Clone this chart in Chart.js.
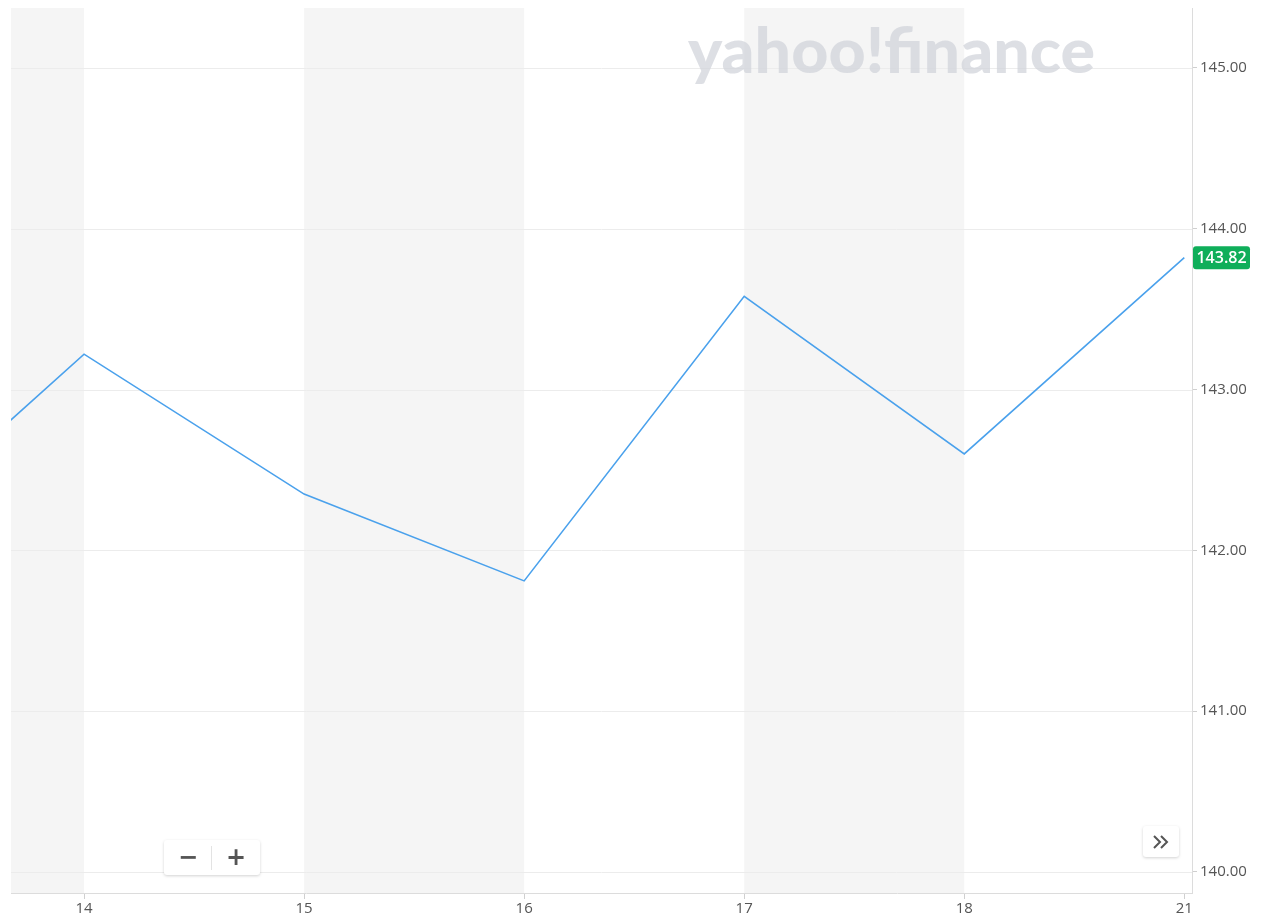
<!DOCTYPE html>
<html>
<head>
<meta charset="utf-8">
<script src="https://cdn.jsdelivr.net/npm/chart.js@4"></script>
<style>
    html, body { margin: 0; padding: 0; background: #fff; }
    #wrap { position: relative; width: 1262px; height: 921px; }
    canvas { display: block; }
    .btn {
        position: absolute; background: #fff; border-radius: 3px;
        box-shadow: 0 1px 3px rgba(0,0,0,0.18); color: #555;
        font-family: "DejaVu Sans", sans-serif; font-weight: bold;
        display: flex; align-items: center;
    }
    #zoomBtns { left: 164px; top: 840px; width: 96px; height: 35px; }
    #zoomBtns span { flex: 1; text-align: center; font-size: 24px; line-height: 35px; }
    #zoomBtns .sep { position: absolute; left: 47px; top: 6px; width: 1px; height: 24px; background: #e3e3e3; }
    #moreBtn { left: 1143px; top: 826px; width: 36px; height: 31px; justify-content: center; }
</style>
</head>
<body>
<div id="wrap">
    <canvas id="priceChart" width="1262" height="921"></canvas>
    <div id="zoomBtns" class="btn"><span>&minus;</span><div class="sep"></div><span>+</span></div>
    <div id="moreBtn" class="btn">
        <svg width="20" height="16" viewBox="0 0 20 16">
            <polyline points="3,2 9,8 3,14" fill="none" stroke="#555" stroke-width="2"/>
            <polyline points="10,2 16,8 10,14" fill="none" stroke="#555" stroke-width="2"/>
        </svg>
    </div>
</div>
<script>
// Trading days shown on the axis (weekend 19/20 skipped)
const tickLabels = ['14', '15', '16', '17', '18', '21'];
// Position of each close on the trading-day index axis (13th sits off the left edge)
const dayIndex = [-1, 0, 1, 2, 3, 4, 5];
const closes = [141.99, 143.22, 142.35, 141.81, 143.58, 142.60, 143.82];
const yTicks = [140, 141, 142, 143, 144, 145];
const lastPrice = 143.82;

const AXIS_FONT = { family: '"Open Sans", sans-serif', size: 15 };

// Alternating grey day bands, watermark and last-price tag
const backdropPlugin = {
    id: 'backdrop',
    beforeDatasetsDraw(chart) {
        const { ctx, chartArea, scales } = chart;
        const x = scales.x;
        ctx.save();
        ctx.beginPath();
        ctx.rect(chartArea.left, chartArea.top, chartArea.right - chartArea.left, chartArea.bottom - chartArea.top);
        ctx.clip();
        ctx.fillStyle = '#f5f5f5';
        for (let i = -1; i < tickLabels.length - 1; i += 2) {
            const x0 = x.getPixelForValue(i);
            const x1 = x.getPixelForValue(i + 1);
            ctx.fillRect(x0, chartArea.top, x1 - x0, chartArea.bottom - chartArea.top);
        }
        ctx.restore();
        // horizontal grid over the bands
        const y = scales.y;
        ctx.save();
        ctx.strokeStyle = '#ececec';
        ctx.lineWidth = 1;
        yTicks.forEach(v => {
            const py = Math.round(y.getPixelForValue(v)) + 0.5;
            ctx.beginPath();
            ctx.moveTo(chartArea.left, py);
            ctx.lineTo(chartArea.right, py);
            ctx.stroke();
        });
        ctx.restore();

        // watermark
        ctx.save();
        ctx.font = '900 63px Lato, "DejaVu Sans", sans-serif';
        ctx.fillStyle = 'rgba(208, 210, 217, 0.72)';
        ctx.textBaseline = 'alphabetic';
        const text = 'yahoo!finance';
        const w = ctx.measureText(text).width;
        ctx.translate(688, 73);
        ctx.scale(407 / w, 1);
        ctx.fillText(text, 0, 0);
        ctx.restore();
    },
    afterDraw(chart) {
        const { ctx, chartArea, scales } = chart;
        const py = scales.y.getPixelForValue(lastPrice);
        ctx.save();
        ctx.fillStyle = '#0fae5a';
        const bx = chartArea.right + 1, bw = 57, bh = 23;
        ctx.beginPath();
        ctx.roundRect(bx, py - bh / 2, bw, bh, 3);
        ctx.fill();
        ctx.fillStyle = '#fff';
        ctx.font = '600 16px "Open Sans", sans-serif';
        ctx.textBaseline = 'middle';
        ctx.textAlign = 'center';
        ctx.fillText(lastPrice.toFixed(2), bx + bw / 2, py + 1);
        ctx.restore();
    }
};

const ctx = document.getElementById('priceChart').getContext('2d');
new Chart(ctx, {
    type: 'line',
    data: {
        datasets: [{
            data: dayIndex.map((d, i) => ({ x: d, y: closes[i] })),
            borderColor: '#4aa1ec',
            borderWidth: 1.6,
            pointRadius: 0,
            tension: 0,
            fill: false
        }]
    },
    options: {
        responsive: false,
        animation: false,
        events: [],
        layout: { padding: { left: 11, top: 8, right: 0, bottom: 0 } },
        plugins: {
            legend: { display: false },
            tooltip: { enabled: false }
        },
        scales: {
            x: {
                type: 'linear',
                min: -0.332,
                max: 5.035,
                afterFit: (scale) => {
                    scale.height = 28;
                    scale.paddingLeft = 0;
                    scale.paddingRight = 0;
                },
                afterBuildTicks: (scale) => {
                    scale.ticks = tickLabels.map((_, i) => ({ value: i }));
                },
                border: { color: '#dcdcdc', width: 1 },
                grid: { drawOnChartArea: false, tickLength: 6, tickColor: '#d0d0d0' },
                ticks: {
                    color: '#555',
                    font: AXIS_FONT,
                    padding: 1,
                    maxRotation: 0,
                    callback: (v) => tickLabels[v]
                }
            },
            y: {
                position: 'right',
                min: 139.869,
                max: 145.373,
                afterFit: (scale) => {
                    scale.width = 70;
                    scale.paddingTop = 0;
                    scale.paddingBottom = 0;
                },
                afterBuildTicks: (scale) => {
                    scale.ticks = yTicks.map(v => ({ value: v }));
                },
                border: { color: '#dcdcdc', width: 1 },
                grid: { color: 'rgba(0,0,0,0)', tickLength: 5, tickColor: '#cfcfcf' },
                ticks: {
                    color: '#555',
                    font: AXIS_FONT,
                    padding: 3,
                    callback: (v) => v.toFixed(2)
                }
            }
        }
    },
    plugins: [backdropPlugin]
});
</script>
</body>
</html>
